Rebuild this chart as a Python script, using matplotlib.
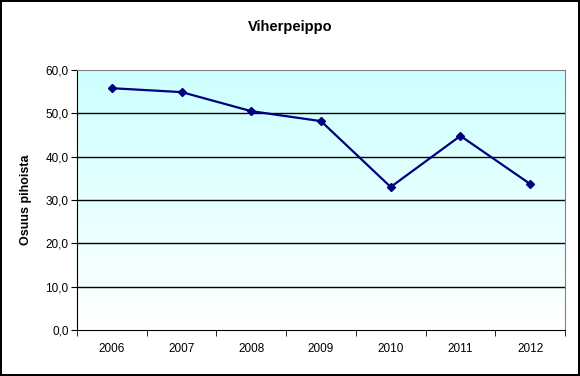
import matplotlib.pyplot as plt
import numpy as np
from matplotlib.colors import LinearSegmentedColormap

years = ['2006', '2007', '2008', '2009', '2010', '2011', '2012']
osuus = [55.8, 54.9, 50.5, 48.2, 33.0, 44.8, 33.7]
yticks = [0, 10, 20, 30, 40, 50, 60]
ylabels = ['0,0', '10,0', '20,0', '30,0', '40,0', '50,0', '60,0']

plt.rcParams['font.family'] = ['Liberation Sans', 'DejaVu Sans']

fig = plt.figure(figsize=(5.8, 3.76), dpi=100)
fig.patch.set_edgecolor('black')
fig.patch.set_linewidth(1.5)

# plot area in pixels: x 77..565, y 70..330
ax = fig.add_axes([77/580, 1 - 330/376, 488/580, 260/376])

# gradient background
cmap = LinearSegmentedColormap.from_list('bg', ['#ffffff', '#ccffff'])
grad = np.linspace(0, 1, 256).reshape(-1, 1)
ax.imshow(grad, aspect='auto', cmap=cmap, origin='lower',
          extent=[0, 1, 0, 1], transform=ax.transAxes, zorder=0)

x = np.arange(len(years))
for t in yticks[1:-1]:
    ax.axhline(t, color='black', lw=1, zorder=1)

ax.plot(x, osuus, color='#000080', lw=1.6, marker='D', ms=4.5,
        markerfacecolor='#000080', zorder=3)

ax.set_xlim(-0.5, len(years) - 0.5)
ax.set_ylim(0, 60)
ax.set_yticks(yticks)
ax.set_yticklabels(ylabels, fontsize=8.5)
ax.set_xticks(x)
ax.set_xticklabels(years, fontsize=8.5)
ax.set_xticks(np.arange(len(years) + 1) - 0.5, minor=True)
ax.tick_params(axis='x', which='major', length=0, pad=9)
ax.tick_params(axis='x', which='minor', length=4, direction='out', color='black')
ax.tick_params(axis='y', length=4, direction='out', color='black', pad=2)

for side in ['top', 'right']:
    ax.spines[side].set_color('#808080')
for side in ['left', 'bottom']:
    ax.spines[side].set_color('black')

ax.set_ylabel('Osuus pihoista', fontsize=9, fontweight='bold', labelpad=10)
fig.text(290/580, 1 - 27/376, 'Viherpeippo', ha='center', va='center',
         fontsize=10.5, fontweight='bold')

fig.savefig('out.png', dpi=100, edgecolor=fig.get_edgecolor())
